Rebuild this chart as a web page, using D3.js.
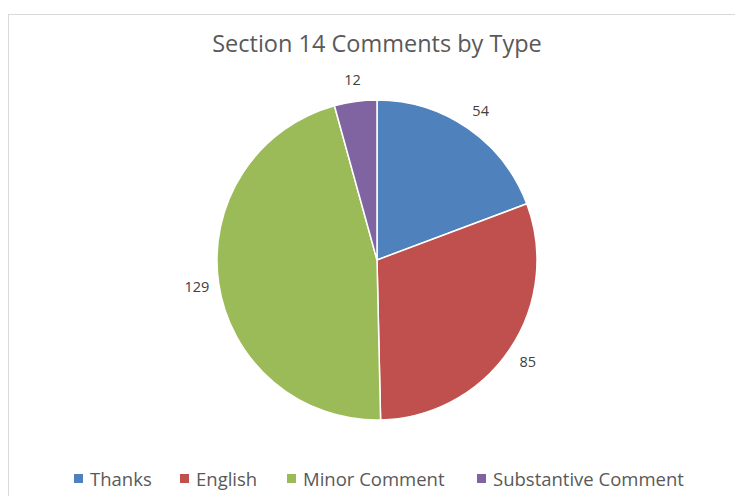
<!DOCTYPE html>
<html><head><meta charset="utf-8">
<script src="https://cdn.jsdelivr.net/npm/d3@7"></script>
<style>body{margin:0;background:#fff}svg{display:block}</style>
</head><body>
<script>
const categories = ["Thanks", "English", "Minor Comment", "Substantive Comment"];
const values = [54, 85, 129, 12];
const colors = ["#4f81bd", "#c0504d", "#9bbb59", "#8064a2"];
const title = "Section 14 Comments by Type";

const W = 735, H = 496;
const svg = d3.select("body").append("svg").attr("width", W).attr("height", H);
svg.append("rect").attr("x", 8.5).attr("y", 14.5).attr("width", W + 10).attr("height", H + 10)
  .attr("fill", "#fff").attr("stroke", "#d9d9d9").attr("stroke-width", 1);

const font = "'Open Sans', 'Noto Sans', sans-serif";
svg.append("text").attr("x", 377).attr("y", 52).attr("text-anchor", "middle")
  .attr("font-family", font).attr("font-size", 23.5).attr("fill", "#595959").text(title);

const cx = 377, cy = 260, r = 160;
const data = categories.map((c, i) => ({c, v: values[i], col: colors[i]}));
const pie = d3.pie().value(d => d.v).sort(null);
const arc = d3.arc().innerRadius(0).outerRadius(r);
const labelArc = d3.arc().innerRadius(182).outerRadius(182);
const g = svg.append("g").attr("transform", `translate(${cx},${cy})`);
const arcs = pie(data);
g.selectAll("path").data(arcs).join("path").attr("d", arc)
  .attr("fill", d => d.data.col).attr("stroke", "#fff").attr("stroke-width", 1.5);
g.selectAll("text").data(arcs).join("text")
  .attr("transform", d => `translate(${labelArc.centroid(d)})`)
  .attr("text-anchor", "middle").attr("dominant-baseline", "central")
  .attr("font-family", font).attr("font-size", 14.5).attr("fill", "#404040")
  .text(d => d.data.v);

// legend
const legendX = [74, 180, 287, 477];
const lg = svg.append("g");
data.forEach((d, i) => {
  lg.append("rect").attr("x", legendX[i]).attr("y", 474).attr("width", 9).attr("height", 9).attr("fill", d.col);
  lg.append("text").attr("x", legendX[i] + 16).attr("y", 486).attr("font-family", font)
    .attr("font-size", 18.5).attr("fill", "#595959").text(d.c);
});
</script>
</body></html>
